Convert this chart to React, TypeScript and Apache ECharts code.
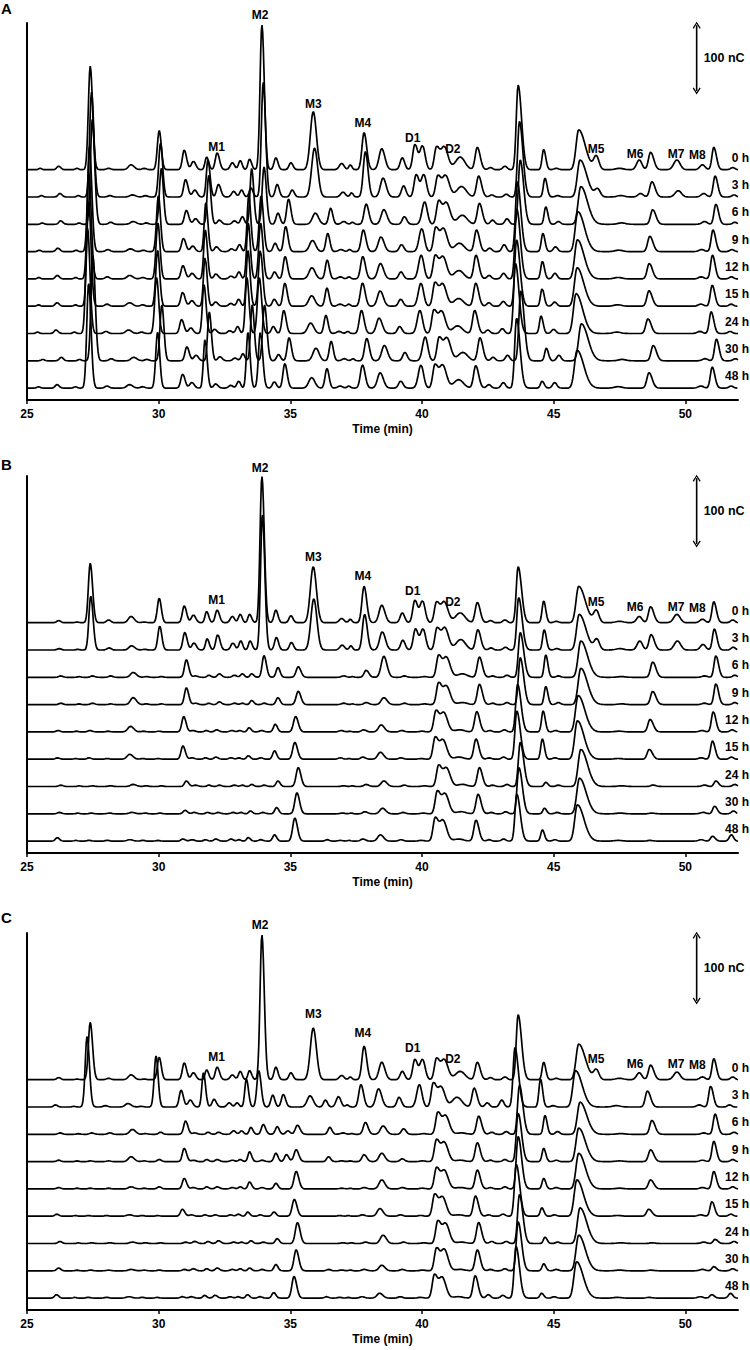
import React, { useEffect, useRef } from "react";
import * as echarts from "echarts";

// ---------- data ----------
const TRACE_LABELS = ["0 h", "3 h", "6 h", "9 h", "12 h", "15 h", "24 h", "30 h", "48 h"];
const PANEL_LETTERS = ["A", "B", "C"];
const X_MIN = 25;
const X_MAX = 52;
const X_INTERVAL = 5;
const X_TICKS = [25, 30, 35, 40, 45, 50];
const AXIS_TITLE = "Time (min)";

// retention times of the peak columns (min)
const PEAK_RT = [
  25.5, 26.2, 26.9, 27.4, 28.1, 28.95, 29.45,
  30.02, 30.97, 31.32, 31.82, 32.22, 32.8, 33.1,
  33.45, 33.92, 34.45, 34.85, 35.02, 35.22, 35.87,
  36.45, 36.95, 37.28, 37.8, 38.47, 39.25, 39.73,
  40.02, 40.55, 40.85, 41.45, 42.1, 42.6, 43.15,
  43.65, 44.62, 45.1, 45.95, 46.62, 47.5, 48.25,
  48.68, 49.68, 50.65, 51.08, 51.8,
];
// peak half-widths (min), leading / tailing side
const SIGMA_L = [
  0.06, 0.07, 0.06, 0.07, 0.08, 0.1, 0.08,
  0.07, 0.07, 0.08, 0.06, 0.07, 0.08, 0.07,
  0.06, 0.07, 0.07, 0.07, 0.07, 0.08, 0.11,
  0.07, 0.09, 0.06, 0.08, 0.1, 0.08, 0.08,
  0.1, 0.08, 0.12, 0.18, 0.08, 0.08, 0.08,
  0.07, 0.06, 0.08, 0.1, 0.1, 0.15, 0.1,
  0.08, 0.12, 0.1, 0.07, 0.08,
];
const SIGMA_R = [
  0.06, 0.08, 0.06, 0.09, 0.08, 0.12, 0.08,
  0.08, 0.09, 0.09, 0.08, 0.09, 0.08, 0.07,
  0.08, 0.09, 0.08, 0.09, 0.08, 0.1, 0.12,
  0.08, 0.09, 0.06, 0.1, 0.12, 0.09, 0.1,
  0.1, 0.12, 0.14, 0.18, 0.11, 0.08, 0.08,
  0.13, 0.08, 0.08, 0.25, 0.1, 0.15, 0.1,
  0.12, 0.12, 0.1, 0.1, 0.08,
];

// peak heights (nC) per trace, panel A
const HEIGHTS_A = [
  [2, 5, 2, 148, 2, 7, 2, 56, 28, 12, 18, 24, 10, 13, 15, 207, 17, 0, 10, 0, 83, 0, 9, 7, 53, 30, 17, 36, 34, 32, 32, 18, 32, 3, 5, 121, 29, 2, 57, 19, 2, 14, 25, 14, 7, 32, 3],
  [2, 5, 2, 150, 2, 3, 2, 77, 25, 10, 53, 18, 8, 10, 13, 164, 18, 0, 10, 0, 70, 0, 7, 6, 65, 27, 16, 32, 32, 30, 30, 15, 30, 3, 4, 108, 27, 2, 53, 11, 2, 5, 22, 9, 5, 30, 3],
  [2, 5, 2, 150, 3, 4, 2, 80, 20, 8, 70, 6, 5, 11, 80, 82, 16, 36, 0, 0, 16, 23, 4, 3, 29, 21, 11, 0, 32, 33, 30, 13, 30, 6, 8, 92, 25, 4, 54, 0, 2, 0, 21, 0, 4, 29, 3],
  [2, 5, 2, 150, 3, 4, 2, 80, 19, 8, 70, 7, 4, 10, 80, 80, 12, 36, 0, 0, 16, 26, 3, 3, 31, 21, 10, 0, 33, 34, 32, 12, 31, 5, 10, 100, 26, 7, 57, 0, 2, 0, 22, 0, 3, 31, 3],
  [2, 5, 2, 150, 3, 5, 2, 80, 19, 8, 70, 7, 4, 10, 80, 80, 10, 32, 0, 0, 16, 27, 3, 3, 32, 22, 10, 0, 34, 33, 31, 12, 34, 5, 8, 100, 25, 8, 56, 0, 2, 0, 22, 0, 3, 34, 3],
  [2, 5, 2, 150, 3, 5, 2, 80, 20, 8, 70, 6, 4, 10, 80, 80, 10, 33, 0, 0, 15, 26, 3, 3, 33, 22, 10, 0, 33, 33, 31, 11, 33, 5, 7, 95, 25, 6, 55, 0, 2, 0, 22, 0, 3, 30, 3],
  [2, 5, 2, 150, 3, 5, 2, 80, 20, 8, 70, 6, 4, 10, 80, 80, 10, 33, 0, 0, 15, 26, 3, 3, 33, 22, 10, 0, 33, 33, 31, 11, 33, 5, 7, 100, 25, 6, 57, 0, 2, 0, 21, 0, 3, 31, 3],
  [2, 5, 2, 150, 3, 5, 2, 80, 20, 8, 70, 6, 4, 10, 80, 80, 9, 33, 0, 0, 18, 28, 3, 3, 32, 22, 12, 0, 34, 33, 32, 12, 33, 5, 8, 100, 18, 8, 53, 0, 2, 0, 22, 0, 3, 31, 3],
  [2, 5, 2, 150, 3, 5, 2, 80, 20, 8, 70, 6, 4, 10, 80, 80, 9, 35, 0, 0, 15, 28, 3, 3, 33, 22, 10, 0, 33, 33, 32, 12, 32, 5, 8, 100, 10, 8, 54, 0, 2, 0, 22, 0, 3, 30, 3],
];
const SHIFT_A = [0, 0.05, 0.08, -0.03, -0.05, -0.06, -0.1, 0.1, -0.06];

// panel B
const HEIGHTS_B = [
  [0, 3, 1, 85, 4, 9, 1, 35, 24, 11, 16, 18, 9, 12, 12, 209, 18, 0, 10, 0, 80, 0, 6, 5, 52, 25, 14, 32, 31, 29, 29, 14, 29, 3, 4, 80, 31, 2, 52, 17, 2, 9, 23, 12, 5, 30, 4],
  [0, 2, 1, 77, 3, 6, 1, 34, 25, 10, 16, 22, 10, 13, 13, 194, 18, 0, 11, 0, 73, 0, 7, 6, 51, 26, 14, 30, 30, 31, 31, 15, 29, 3, 4, 75, 29, 2, 51, 15, 2, 13, 22, 13, 8, 30, 4],
  [0, 2, 1, 2, 2, 7, 1, 1, 25, 2, 3, 5, 3, 5, 5, 31, 14, 0, 0, 15, 0, 0, 2, 1, 10, 30, 2, 0, 1, 31, 28, 5, 29, 2, 3, 64, 32, 2, 52, 0, 1, 0, 22, 0, 2, 31, 3],
  [0, 2, 1, 2, 1, 10, 1, 1, 24, 2, 2, 4, 2, 2, 6, 2, 10, 0, 0, 19, 0, 0, 2, 1, 3, 10, 2, 0, 1, 31, 26, 3, 29, 2, 3, 67, 26, 3, 52, 0, 1, 0, 19, 0, 2, 30, 3],
  [0, 2, 1, 2, 1, 8, 1, 1, 22, 2, 2, 3, 2, 2, 6, 2, 11, 0, 0, 22, 0, 0, 2, 1, 3, 10, 2, 0, 1, 30, 27, 3, 29, 2, 3, 68, 30, 2, 52, 0, 1, 0, 18, 0, 2, 29, 3],
  [0, 2, 1, 2, 1, 7, 1, 1, 19, 2, 2, 3, 2, 2, 5, 2, 12, 0, 0, 24, 0, 0, 2, 1, 3, 10, 2, 0, 1, 31, 27, 3, 29, 2, 3, 69, 29, 2, 55, 0, 1, 0, 14, 0, 2, 26, 3],
  [0, 2, 1, 1, 1, 3, 1, 1, 8, 2, 2, 2, 2, 2, 3, 2, 8, 0, 0, 27, 0, 0, 1, 1, 3, 8, 2, 0, 1, 30, 26, 3, 27, 2, 3, 63, 6, 2, 53, 0, 1, 0, 2, 0, 2, 8, 3],
  [0, 2, 1, 1, 1, 2, 1, 1, 5, 2, 2, 2, 2, 2, 4, 2, 9, 0, 0, 30, 0, 0, 1, 1, 3, 8, 2, 0, 1, 32, 28, 3, 28, 2, 3, 66, 8, 2, 51, 0, 1, 0, 1, 0, 2, 11, 4],
  [0, 5, 1, 1, 1, 2, 1, 1, 3, 2, 2, 3, 3, 2, 5, 2, 9, 0, 0, 33, 0, 2, 1, 1, 3, 9, 2, 0, 1, 33, 29, 3, 30, 2, 3, 67, 16, 2, 52, 0, 1, 0, 1, 0, 2, 7, 9],
];
const SHIFT_B = [0, 0.02, 0.08, 0.08, -0.02, -0.05, 0.08, 0.03, -0.05];

// panel C
const HEIGHTS_C = [
  [0, 3, 1, 82, 2, 7, 1, 32, 24, 10, 14, 18, 7, 12, 13, 207, 18, 0, 10, 0, 74, 0, 6, 4, 48, 25, 12, 29, 29, 30, 28, 12, 25, 3, 4, 93, 25, 2, 51, 14, 2, 10, 21, 11, 4, 30, 4],
  [0, 3, 1, 101, 2, 5, 1, 73, 24, 10, 49, 11, 6, 6, 40, 52, 17, 18, 0, 0, 16, 10, 15, 3, 32, 26, 14, 0, 32, 34, 28, 14, 27, 6, 10, 85, 40, 2, 52, 0, 2, 0, 23, 0, 3, 30, 3],
  [0, 2, 1, 2, 2, 7, 1, 3, 19, 2, 3, 3, 5, 5, 10, 14, 11, 5, 0, 13, 0, 10, 2, 1, 17, 12, 8, 0, 1, 31, 26, 2, 26, 3, 4, 70, 27, 4, 46, 0, 1, 0, 20, 0, 2, 29, 3],
  [0, 2, 1, 1, 1, 7, 1, 3, 19, 2, 3, 3, 2, 3, 14, 2, 12, 10, 0, 17, 0, 7, 1, 1, 10, 12, 4, 0, 1, 31, 27, 2, 27, 2, 3, 69, 19, 2, 48, 0, 1, 0, 17, 0, 2, 29, 3],
  [0, 2, 1, 1, 1, 3, 1, 3, 15, 2, 3, 3, 2, 3, 10, 2, 8, 0, 0, 25, 0, 0, 1, 1, 2, 13, 2, 0, 1, 30, 26, 2, 27, 2, 3, 75, 15, 2, 51, 0, 1, 0, 13, 0, 2, 25, 3],
  [0, 3, 1, 1, 1, 2, 1, 1, 10, 2, 2, 2, 2, 3, 6, 2, 6, 0, 0, 24, 0, 0, 1, 1, 2, 11, 2, 0, 1, 31, 27, 2, 29, 2, 3, 74, 12, 2, 52, 0, 1, 0, 10, 0, 2, 21, 3],
  [0, 3, 1, 1, 1, 2, 1, 1, 2, 3, 3, 4, 2, 2, 4, 2, 7, 0, 0, 30, 0, 0, 1, 1, 2, 12, 2, 0, 1, 32, 28, 2, 30, 3, 3, 70, 9, 2, 51, 0, 1, 0, 1, 0, 2, 6, 3],
  [0, 4, 1, 1, 1, 2, 1, 1, 2, 3, 3, 4, 2, 3, 4, 2, 9, 0, 0, 30, 0, 2, 1, 1, 2, 8, 2, 0, 1, 32, 30, 2, 30, 2, 3, 70, 10, 2, 51, 0, 1, 0, 1, 0, 2, 6, 3],
  [0, 5, 1, 1, 1, 2, 1, 1, 2, 2, 4, 4, 2, 2, 5, 2, 8, 0, 0, 31, 0, 2, 1, 1, 2, 7, 2, 0, 1, 33, 29, 2, 32, 5, 4, 74, 7, 2, 52, 0, 1, 0, 1, 0, 2, 5, 7],
];
const SHIFT_C = [0, -0.12, 0.05, 0, 0, -0.07, 0.05, 0, -0.08];

// peak annotations
const PEAK_NAMES = ["M1", "M2", "M3", "M4", "D1", "D2", "M5", "M6", "M7", "M8"];
const PEAK_NAME_X = [32.2, 33.85, 35.87, 37.75, 39.65, 41.17, 46.61, 48.09, 49.65, 50.46];
const PEAK_NAME_Y = [361, 550, 423, 396, 374, 358, 358, 352, 352, 350];

// scale bar
const SCALE_BAR_NC = 100;
const SCALE_BAR_LABEL = "100 nC";
const SCALE_BAR_X = 50.43;
const SCALE_BAR_TOP = 538.5;

// stacking of the traces (nC)
const TRACE_STEP_NC = 39;
const LOWEST_BASE_NC = 17;
const TRACE_LABEL_RAISE_NC = 17;

// ---------- layout ----------
const FONT = "'Liberation Sans', Arial, Helvetica, sans-serif";
const GRID_TOPS = [23, 476, 933];
const LETTER_TOPS = [1, 457, 910];
const GRID_LEFT = 27;
const GRID_W = 711;
const GRID_H = 377;
const PX_PER_NC = 0.7;
const Y_MAX = GRID_H / PX_PER_NC;
const X_STEP = 0.025;

const ARROW_PATH = "path://M5,0 L10,8.5 L8.6,9.5 L5,3 L1.4,9.5 L0,8.5 Z";

function buildTrace(heights: number[], shift: number, base: number) {
  const pts: number[][] = [];
  const n = Math.round((X_MAX - X_MIN) / X_STEP);
  for (let j = 0; j <= n; j++) {
    const x = X_MIN + j * X_STEP;
    let y = base;
    for (let k = 0; k < PEAK_RT.length; k++) {
      const h = heights[k];
      if (!h) continue;
      const d = x - (PEAK_RT[k] + shift);
      const s = d < 0 ? SIGMA_L[k] : SIGMA_R[k];
      const z = d / s;
      if (z > 6 || z < -6) continue;
      y += h * Math.exp(-0.5 * z * z);
    }
    pts.push([Number(x.toFixed(3)), Number(y.toFixed(2))]);
  }
  return pts;
}

const LABEL_BASE = {
  show: true,
  position: "inside",
  verticalAlign: "middle",
  formatter: (d: any) => d.name,
  fontFamily: FONT,
  fontWeight: "bold",
  color: "#000",
  opacity: 1,
};

function buildOption() {
  const panels = [
    { heights: HEIGHTS_A, shifts: SHIFT_A },
    { heights: HEIGHTS_B, shifts: SHIFT_B },
    { heights: HEIGHTS_C, shifts: SHIFT_C },
  ];
  const series: any[] = [];
  const baseOf = (i: number) => LOWEST_BASE_NC + TRACE_STEP_NC * (TRACE_LABELS.length - 1 - i);

  panels.forEach((panel, p) => {
    panel.heights.forEach((hs, i) => {
      series.push({
        type: "line",
        xAxisIndex: p,
        yAxisIndex: p,
        data: buildTrace(hs, panel.shifts[i], baseOf(i)),
        showSymbol: false,
        symbol: "none",
        smooth: false,
        silent: true,
        lineStyle: { color: "#000", width: 1.7 },
        z: 2,
      });
    });

    // trace labels (right side)
    series.push({
      type: "scatter",
      xAxisIndex: p,
      yAxisIndex: p,
      symbolSize: 0,
      silent: true,
      clip: false,
      itemStyle: { opacity: 1 },
      data: TRACE_LABELS.map((t, i) => ({ name: t, value: [X_MAX, baseOf(i) + TRACE_LABEL_RAISE_NC] })),
      label: { ...LABEL_BASE, align: "right", offset: [11, 0], fontSize: 12 },
      z: 5,
    });

    // peak names
    series.push({
      type: "scatter",
      xAxisIndex: p,
      yAxisIndex: p,
      symbolSize: 0,
      silent: true,
      clip: false,
      itemStyle: { opacity: 1 },
      data: PEAK_NAMES.map((nm, k) => ({ name: nm, value: [PEAK_NAME_X[k], PEAK_NAME_Y[k]] })),
      label: { ...LABEL_BASE, align: "center", fontSize: 12 },
      z: 5,
    });

    // scale bar with arrows
    series.push({
      type: "line",
      xAxisIndex: p,
      yAxisIndex: p,
      silent: true,
      clip: false,
      symbol: ARROW_PATH,
      symbolSize: [8, 7],
      showSymbol: true,
      showAllSymbol: true,
      lineStyle: { color: "#000", width: 1.6 },
      itemStyle: { color: "#000", borderWidth: 0, opacity: 1 },
      data: [
        { value: [SCALE_BAR_X, SCALE_BAR_TOP - SCALE_BAR_NC + 3], symbolRotate: 180 },
        { value: [SCALE_BAR_X, SCALE_BAR_TOP - 3], symbolRotate: 0 },
      ],
      z: 5,
    });
    series.push({
      type: "scatter",
      xAxisIndex: p,
      yAxisIndex: p,
      symbolSize: 0,
      silent: true,
      clip: false,
      itemStyle: { opacity: 1 },
      data: [{ name: SCALE_BAR_LABEL, value: [SCALE_BAR_X, SCALE_BAR_TOP - SCALE_BAR_NC / 2] }],
      label: { ...LABEL_BASE, align: "left", offset: [7, 0], fontSize: 12.5 },
      z: 5,
    });
  });

  return {
    animation: false,
    backgroundColor: "#fff",
    title: PANEL_LETTERS.map((l, p) => ({
      text: l,
      left: 1,
      top: LETTER_TOPS[p],
      padding: 0,
      textStyle: { fontFamily: FONT, fontWeight: "bold", fontSize: 15, color: "#000" },
    })),
    grid: GRID_TOPS.map((t) => ({ left: GRID_LEFT, top: t, width: GRID_W, height: GRID_H })),
    xAxis: GRID_TOPS.map((_, p) => ({
      type: "value",
      gridIndex: p,
      min: X_MIN,
      max: X_MAX,
      interval: X_INTERVAL,
      name: AXIS_TITLE,
      nameLocation: "middle",
      nameGap: 23,
      nameTextStyle: { fontFamily: FONT, fontWeight: "bold", fontSize: 12, color: "#000" },
      axisLine: { show: true, onZero: false, lineStyle: { color: "#000", width: 2 } },
      axisTick: { show: true, length: 4, customValues: X_TICKS, lineStyle: { color: "#000", width: 1.5 } },
      axisLabel: {
        show: true,
        customValues: X_TICKS,
        margin: 8,
        fontFamily: FONT,
        fontWeight: "bold",
        fontSize: 12,
        color: "#000",
      },
      splitLine: { show: false },
    })),
    yAxis: GRID_TOPS.map((_, p) => ({
      type: "value",
      gridIndex: p,
      min: 0,
      max: Y_MAX,
      axisLine: { show: true, lineStyle: { color: "#000", width: 2 } },
      axisTick: { show: false },
      axisLabel: { show: false },
      splitLine: { show: false },
    })),
    series,
  };
}

export default function App() {
  const ref = useRef<HTMLDivElement>(null);
  useEffect(() => {
    if (!ref.current) return;
    const chart = echarts.init(ref.current, null, { renderer: "svg" });
    chart.setOption(buildOption() as any);
    return () => {
      chart.dispose();
    };
  }, []);
  return (
    <div
      ref={ref}
      style={{ position: "absolute", left: 0, top: 0, width: 750, height: 1350, background: "#fff" }}
    />
  );
}
